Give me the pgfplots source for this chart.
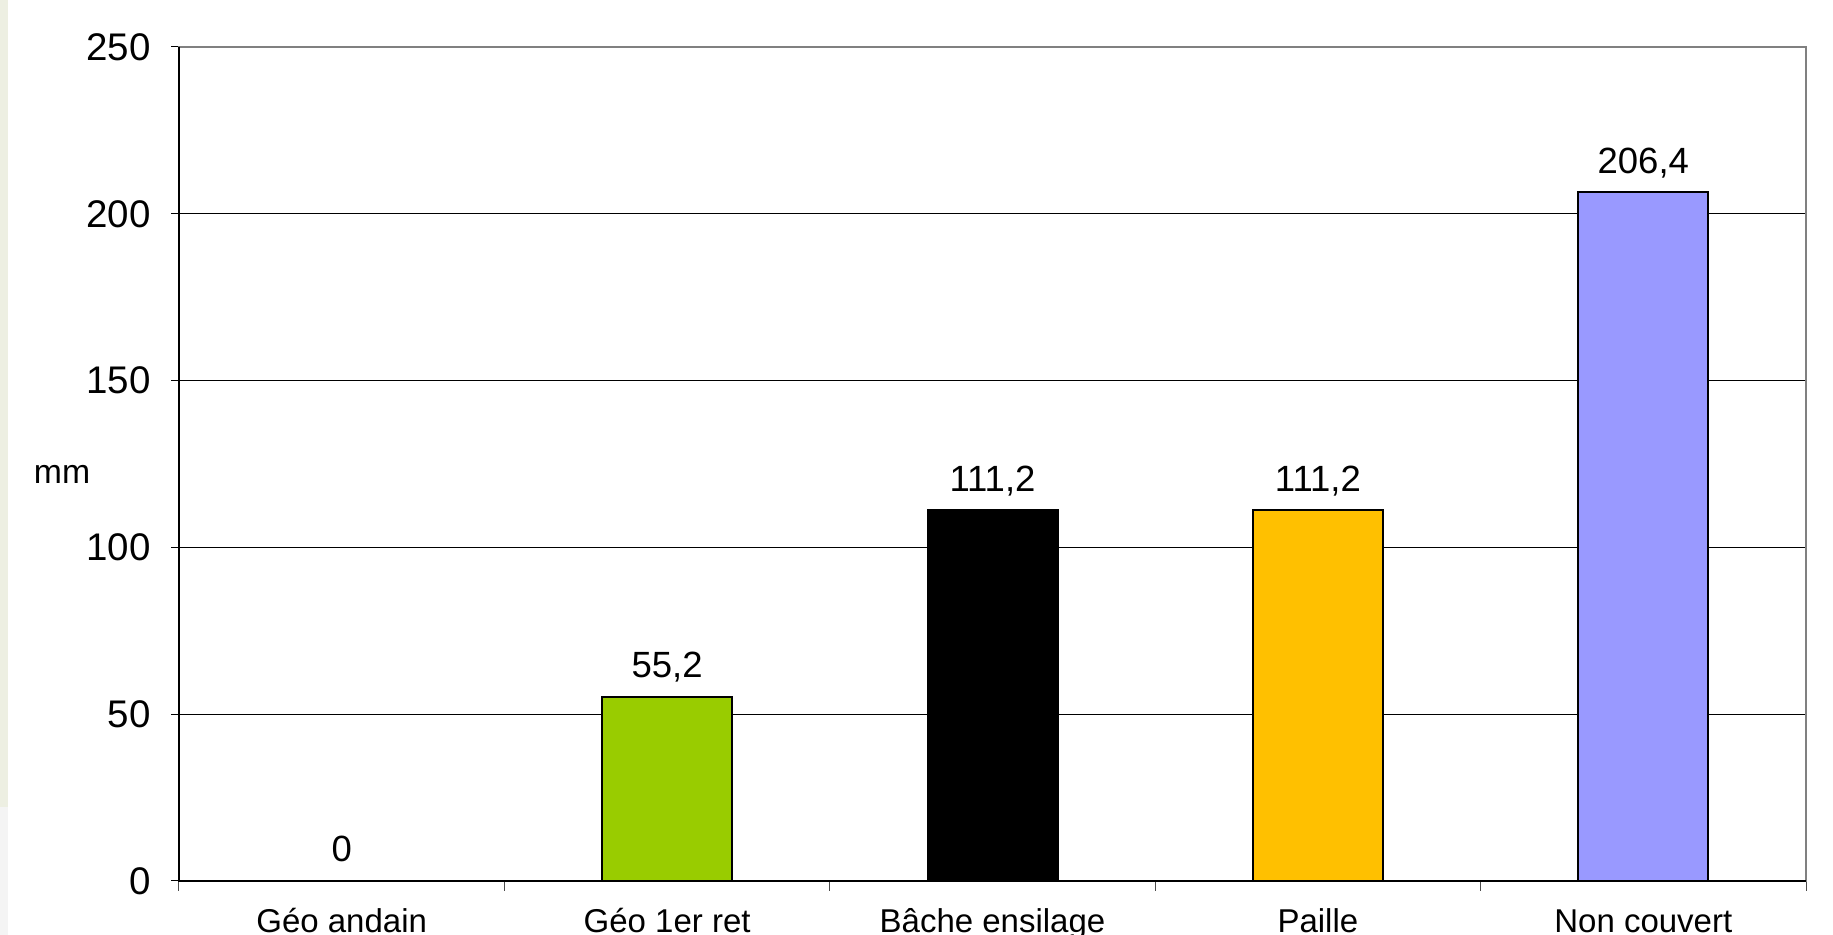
\documentclass[border=0pt]{standalone}
\usepackage{fontspec}
\setmainfont{Liberation Sans}
\usepackage{pgfplots}
\pgfplotsset{compat=1.18}
\definecolor{cgreen}{HTML}{99CC00}
\definecolor{cgold}{HTML}{FFC000}
\definecolor{clav}{HTML}{9999FF}
\definecolor{strip}{HTML}{EDEFE2}
\definecolor{stripb}{HTML}{F4F4F4}
\begin{document}
\begin{tikzpicture}[x=1pt,y=1pt]
\path[use as bounding box] (-71.6,-21.6) rectangle (661.6,352.4);
\clip (-71.6,-21.6) rectangle (661.6,352.4);
\fill[white] (-71.6,-21.6) rectangle (661.6,352.4);
\fill[strip] (-71.6,352.4) rectangle (-68.4,29.6);
\fill[stripb] (-71.6,29.6) rectangle (-68.4,-21.6);
\begin{axis}[
  at={(0,0)}, anchor=south west,
  scale only axis, width=650.8pt, height=333.6pt,
  xmin=-0.5, xmax=4.5, ymin=0, ymax=250,
  ytick={0,50,100,150,200,250},
  xtick={0,1,2,3,4},
  xticklabels={Géo andain, Géo 1er ret, Bâche ensilage, Paille, Non couvert},
  minor xtick={-0.5,0.5,1.5,2.5,3.5,4.5},
  xtick style={draw=none},
  minor x tick style={draw=black!70, line width=0.4pt},
  minor tick length=4pt,
  major tick length=3pt,
  y tick style={draw=black, line width=0.4pt},
  tick align=outside, tick pos=left,
  ymajorgrids, major grid style={black, line width=0.4pt},
  axis line style={draw=gray, line width=0.8pt},
  font=\fontsize{13}{15}\selectfont,
  /pgf/number format/assume math mode=true,
  xticklabel style={font=\fontsize{13.2}{15}\selectfont, anchor=base, yshift=-17.7pt},
  yticklabel style={font=\fontsize{15.4}{17}\selectfont, xshift=-4.8pt},
  ybar, bar width=52pt, bar shift=0pt,
  nodes near coords,
  nodes near coords style={font=\fontsize{14.6}{16}\selectfont, anchor=base, yshift=7.6pt,
    /pgf/number format/.cd, use comma, fixed, precision=1},
  clip=false,
]
\addplot[draw=none, fill=none] coordinates {(0,0)};
\addplot[draw=black, line width=0.8pt, fill=cgreen] coordinates {(1,55.2)};
\addplot[draw=black, line width=0.8pt, fill=black] coordinates {(2,111.2)};
\addplot[draw=black, line width=0.8pt, fill=cgold] coordinates {(3,111.2)};
\addplot[draw=black, line width=0.8pt, fill=clav] coordinates {(4,206.4)};
\draw[black, line width=0.8pt] (rel axis cs:0,1) -- (rel axis cs:0,0) -- (rel axis cs:1,0);
\node[font=\fontsize{13.5}{15}\selectfont] at (rel axis cs:-0.0719,0.488) {mm};
\end{axis}
\end{tikzpicture}
\end{document}
